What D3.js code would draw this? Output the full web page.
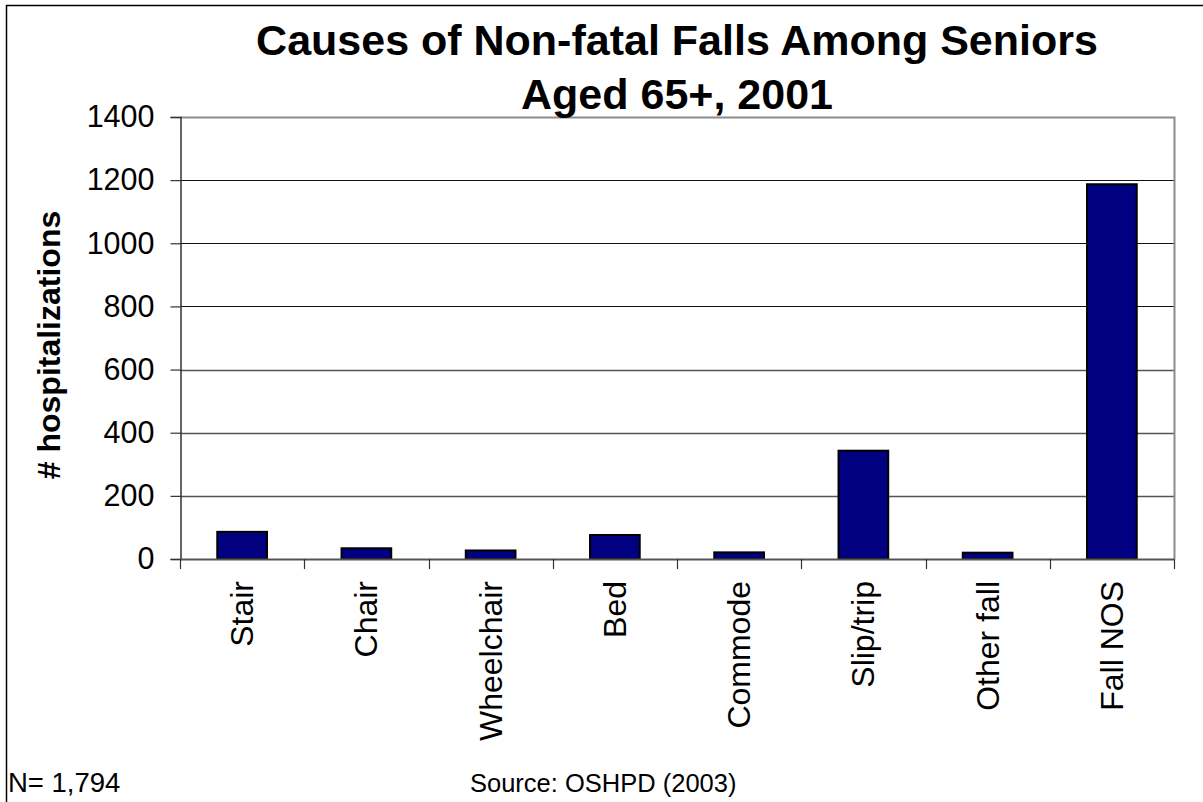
<!DOCTYPE html>
<html>
<head>
<meta charset="utf-8">
<script src="https://cdn.jsdelivr.net/npm/d3@7"></script>
<style>
  html, body { margin: 0; padding: 0; background: #fff; }
  svg { display: block; font-family: "Liberation Sans", Arial, sans-serif; }
</style>
</head>
<body>
<svg id="chart" width="1203" height="802"></svg>
<script>
// Hospitalizations by fall cause, seniors 65+, 2001
const categories = ["Stair", "Chair", "Wheelchair", "Bed", "Commode", "Slip/trip", "Other fall", "Fall NOS"];
const hospitalizations = [86, 34, 27, 76, 21, 343, 20, 1187];
const yTicks = [0, 200, 400, 600, 800, 1000, 1200, 1400];
const titleLines = ["Causes of Non-fatal Falls Among Seniors", "Aged 65+, 2001"];
const yAxisTitle = "# hospitalizations";
const sampleNote = "N= 1,794";
const sourceNote = "Source: OSHPD (2003)";

const svg = d3.select("#chart");
const plot = { left: 180, right: 1174, top: 117, bottom: 559 };

const x = d3.scaleBand()
  .domain(categories)
  .range([plot.left, plot.right])
  .paddingInner(0.6)
  .paddingOuter(0.3);

const y = d3.scaleLinear()
  .domain([0, 1400])
  .range([plot.bottom, plot.top]);

// outer chart frame (top and left edges visible)
svg.append("path")
  .attr("d", `M6.5,802 V5.5 H1203`)
  .attr("fill", "none")
  .attr("stroke", "#000")
  .attr("stroke-width", 1.5);

// horizontal gridlines
svg.append("g")
  .selectAll("line")
  .data(yTicks.filter(d => d > 0 && d < 1400))
  .join("line")
  .attr("x1", plot.left)
  .attr("x2", plot.right)
  .attr("y1", d => Math.round(y(d)) + 0.5)
  .attr("y2", d => Math.round(y(d)) + 0.5)
  .attr("stroke", d => d >= 800 ? "#111" : "#555")
  .attr("stroke-width", d => d >= 800 ? 1 : 1.5);

// plot area border (top and right)
svg.append("path")
  .attr("d", `M${plot.left},${plot.top + 0.5} H${plot.right + 0.5} V${plot.bottom}`)
  .attr("fill", "none")
  .attr("stroke", "#8c8c8c")
  .attr("stroke-width", 2);

// bars
svg.append("g")
  .selectAll("rect")
  .data(categories.map((c, i) => ({ c, v: hospitalizations[i] })))
  .join("rect")
  .attr("x", d => x(d.c))
  .attr("y", d => y(d.v))
  .attr("width", x.bandwidth())
  .attr("height", d => y(0) - y(d.v))
  .attr("fill", "#000080")
  .attr("stroke", "#000")
  .attr("stroke-width", 2);

// y axis
const yAxis = svg.append("g")
  .attr("transform", `translate(${plot.left + 0.5},0)`)
  .call(d3.axisLeft(y).tickValues(yTicks).tickSize(10).tickPadding(16).tickFormat(d3.format("d")));
yAxis.select(".domain").attr("stroke", "#333").attr("stroke-width", 1.5);
yAxis.selectAll(".tick line").attr("stroke", "#333").attr("stroke-width", 1.2);
yAxis.selectAll(".tick text")
  .attr("font-size", 30.5)
  .attr("fill", "#000")
  .attr("font-family", "Liberation Sans, Arial, sans-serif");

// x axis baseline and category separators
const step = x.step();
const boundaries = d3.range(categories.length + 1).map(i => plot.left + i * step);
svg.append("line")
  .attr("x1", plot.left).attr("x2", plot.right)
  .attr("y1", plot.bottom + 0.5).attr("y2", plot.bottom + 0.5)
  .attr("stroke", "#555").attr("stroke-width", 2);
svg.append("g")
  .selectAll("line")
  .data(boundaries)
  .join("line")
  .attr("x1", d => Math.round(d) + 0.5)
  .attr("x2", d => Math.round(d) + 0.5)
  .attr("y1", plot.bottom)
  .attr("y2", plot.bottom + 10)
  .attr("stroke", "#333")
  .attr("stroke-width", 1.2);

// rotated category labels
svg.append("g")
  .selectAll("text")
  .data(categories)
  .join("text")
  .attr("transform", d => `translate(${x(d) + x.bandwidth() / 2 + 11},581) rotate(-90)`)
  .attr("text-anchor", "end")
  .attr("font-size", 32)
  .attr("fill", "#000")
  .text(d => d);

// y axis title
svg.append("text")
  .attr("transform", `translate(60,345) rotate(-90)`)
  .attr("text-anchor", "middle")
  .attr("font-size", 32)
  .attr("font-weight", "bold")
  .attr("fill", "#000")
  .text(yAxisTitle);

// chart title
svg.append("g")
  .selectAll("text")
  .data(titleLines)
  .join("text")
  .attr("x", 677)
  .attr("y", (d, i) => 55 + i * 54)
  .attr("text-anchor", "middle")
  .attr("font-size", 43)
  .attr("font-weight", "bold")
  .attr("fill", "#000")
  .text(d => d);

// footnotes
svg.append("text")
  .attr("x", 8).attr("y", 792)
  .attr("font-size", 27.5)
  .attr("fill", "#000")
  .text(sampleNote);
svg.append("text")
  .attr("x", 470).attr("y", 792)
  .attr("font-size", 25.5)
  .attr("fill", "#000")
  .text(sourceNote);
</script>
</body>
</html>
